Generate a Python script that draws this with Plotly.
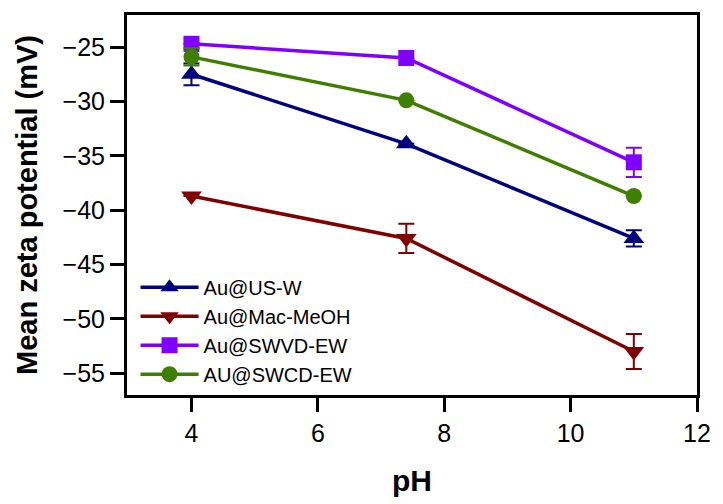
import plotly.graph_objects as go

ph = [4, 7.4, 11]
series_names = ["Au@US-W", "Au@Mac-MeOH", "Au@SWVD-EW", "AU@SWCD-EW"]
us_w = [-27.5, -33.9, -42.6]
us_w_err = [1.0, 0.0, 0.75]
mac_meoh = [-38.7, -42.6, -53.0]
mac_meoh_err = [0.0, 1.35, 1.6]
swvd_ew = [-24.7, -26.0, -35.6]
swvd_ew_err = [0.0, 0.0, 1.35]
swcd_ew = [-25.9, -29.9, -38.7]
swcd_ew_err = [0.8, 0.0, 0.0]

colors = ["#000080", "#800000", "#8000FF", "#3F7F00"]
symbols = ["triangle-up", "triangle-down", "square", "circle"]
sizes = [18, 18, 16, 16]
values = [us_w, mac_meoh, swvd_ew, swcd_ew]
errors = [us_w_err, mac_meoh_err, swvd_ew_err, swcd_ew_err]

FONT = "Liberation Sans, Arial"

fig = go.Figure()
for name, y, e, c, s, sz in zip(series_names, values, errors, colors, symbols, sizes):
    fig.add_trace(go.Scatter(
        x=ph, y=y, name=name, mode="lines+markers",
        line=dict(color=c, width=3.5),
        marker=dict(symbol=s, size=sz, color=c),
        error_y=dict(type="data", array=e, visible=True, color=c, thickness=2, width=8),
    ))

axis_common = dict(
    showline=True, linecolor="black", linewidth=3, mirror=True,
    ticks="outside", ticklen=14, tickwidth=3, tickcolor="black",
    showgrid=False, zeroline=False,
    tickfont=dict(family=FONT, size=25, color="black"),
)

fig.update_layout(
    width=723, height=504,
    margin=dict(l=127, r=19.5, t=13, b=108),
    plot_bgcolor="white", paper_bgcolor="white",
    showlegend=True,
    legend=dict(x=0.015, y=0.335, xanchor="left", yanchor="top",
                font=dict(family=FONT, size=20, color="black"),
                bgcolor="rgba(0,0,0,0)", tracegroupgap=0, itemwidth=58),
    xaxis=dict(range=[2.98, 12], tickvals=[4, 6, 8, 10, 12],
               title=dict(text="<b>pH</b>", font=dict(family=FONT, size=30, color="black"), standoff=24),
               **axis_common),
    yaxis=dict(range=[-57, -22.05], tickvals=[-25, -30, -35, -40, -45, -50, -55],
               title=dict(text="<b>Mean zeta potential (mV)</b>", font=dict(family=FONT, size=29, color="black"), standoff=17),
               **axis_common),
)

fig.write_html("out.html")
